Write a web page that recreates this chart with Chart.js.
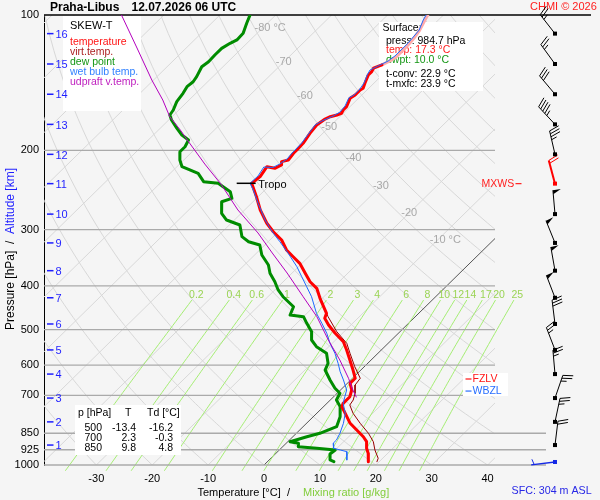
<!DOCTYPE html>
<html>
<head>
<meta charset="utf-8">
<script src="https://cdn.jsdelivr.net/npm/chart.js@4.4.1/dist/chart.umd.min.js"></script>
<style>
html,body{margin:0;padding:0;background:#f5f5f5;overflow:hidden;}
canvas{display:block;}
</style>
</head>
<body>
<canvas id="c" width="600" height="500"></canvas>
<script>
// ---------------- data ----------------
const pressureTicks = [100,200,300,400,500,600,700,850,925,1000];
const tempTicks = [-30,-20,-10,0,10,20,30,40];

const tempP = [100,102.6,108.0,111.9,115.4,119.6,123.8,126.5,129.1,131.3,133.6,135.9,141.8,145.5,146.8,150.6,153.2,159.9,162.6,165.4,166.8,168.3,170.3,175.6,183.2,192.8,199.5,202.9,210.0,211.8,215.4,219.1,217.3,228.7,236.6,253.4,271.2,290.3,303.1,316.2,332.8,344.4,356.3,375.0,391.5,404.9,426.1,460.1,472.1,488.5,509.7,532.1,555.2,584.3,615.1,641.7,658.3,681.3,705.1,729.3,742.1,767.6,807.9,836.0,865.2,887.6,918.1,941.9,966.3,983.3];
const tempT = [-52.8,-52.4,-51.5,-51.1,-50.9,-50.8,-50.8,-51.2,-51.9,-52.8,-52.5,-52.5,-51.6,-51.0,-51.2,-51.2,-51.5,-50.6,-50.6,-50.3,-50.8,-51.7,-52.2,-52.6,-52.3,-51.7,-51.6,-51.6,-51.3,-52.2,-51.6,-52.2,-53.9,-53.3,-53.6,-50.3,-47.2,-43.6,-40.9,-37.9,-35.2,-32.8,-30.4,-27.6,-25.2,-22.8,-20.4,-16.5,-15.9,-14.0,-11.3,-8.3,-6.2,-3.8,-1.4,0.5,0.5,2.0,2.9,2.9,3.3,5.1,7.8,10.2,12.6,14.1,15.3,16.5,17.4,18.1];

const virtP = [426.1,468.2,505.6,536.5,564.6,604.7,641.7,664.1,692.9,717.1,735.7,767.6,807.9,850.3,887.6,926.1,966.3,983.3];
const virtT = [-20.3,-15.6,-11.3,-7.4,-5.0,-1.7,1.4,1.7,3.2,4.1,4.4,6.5,9.6,12.9,15.3,17.1,19.2,19.6];

const dewP = [100,104.3,109.8,113.6,115.6,118.6,122.7,127.0,130.3,137.1,140.7,144.3,149.3,155.8,162.6,166.8,171.1,178.6,184.8,189.6,196.2,201.3,210.0,217.3,221.0,224.8,234.6,236.6,247.0,255.5,260.0,275.9,285.5,292.9,310.9,319.0,324.4,341.5,359.4,375.0,391.5,408.4,422.7,444.9,464.2,468.2,484.3,505.6,527.5,545.9,564.6,594.3,615.1,647.3,675.4,692.9,717.1,742.1,781.0,822.0,850.3,865.2,887.6,894.9,910.6,918.1,926.1,945.3,974.7,983.3];
const dewT = [-84.6,-83.7,-82.5,-82.4,-83.0,-83.6,-83.6,-83.5,-83.8,-82.9,-82.6,-82.8,-82.3,-81.9,-81.0,-80.7,-79.5,-77.0,-74.9,-72.8,-72.2,-72.2,-70.7,-69.1,-67.1,-65.0,-62.5,-59.6,-55.9,-54.4,-55.6,-53.5,-51.4,-48.1,-45.6,-43.5,-40.9,-38.7,-35.7,-33.9,-31.5,-29.4,-27.3,-23.6,-22.7,-20.0,-18.2,-15.8,-14.3,-12.2,-9.2,-7.1,-6.4,-3.7,-1.3,0.5,1.1,3.0,4.8,6.0,4.2,2.5,0.4,2.2,2.8,6.4,10.0,9.8,10.9,11.9];

const wetP = [100,102.6,108.0,115.4,123.3,126.5,129.8,132.5,135.9,141.6,146.8,150.6,152.9,159.3,164.3,167.7,172.0,175.6,182.9,192.5,202.6,208.9,214.4,218.2,217.7,227.9,236.6,244.8,262.1,285.5,305.6,319.0,338.5,362.5,381.6,401.6,422.7,460.1,484.3,509.7,536.5,564.6,594.3,620.4,647.3,681.3,705.1,729.3,767.6,807.9,850.3,879.9,894.9,918.1,926.1,934.2,974.7];
const wetT = [-53.1,-52.7,-51.6,-51.2,-51.2,-51.5,-52.4,-53.1,-52.7,-51.8,-51.4,-51.4,-51.8,-51.0,-50.8,-51.3,-52.4,-52.9,-52.5,-52.0,-51.9,-51.7,-52.1,-52.7,-54.4,-53.8,-53.9,-52.1,-48.8,-44.5,-40.6,-37.9,-34.3,-30.3,-27.6,-24.9,-22.2,-18.3,-15.5,-12.8,-10.4,-7.7,-5.3,-3.4,-1.3,1.1,2.0,2.9,5.1,6.6,7.8,8.4,8.4,9.4,10.9,12.4,13.9];

const parcelP = [100,118.4,139.5,154.5,168.3,180.1,191.5,214.4,237.4,271.2,305.1,338.0,374.4,422.7,468.2,527.5,584.3,641.7,681.3,706.1];
const parcelT = [-107.6,-98.8,-90.3,-84.7,-80.4,-76.1,-72.4,-65.5,-59.0,-51.2,-43.4,-37.2,-30.9,-23.7,-17.6,-11.3,-5.6,-0.7,2.2,4.1];

const windP   = [984.7,903,802,710,628,555,486,425,370,321,277,237,204,175,150,128.5,110];
const windDir = [263,7,12,19,355,339,353,339,350,338,355,345,347,317,320,324,322];
const windSpd = [3,20,25,25,25,25,30,50,50,50,50,20,35,45,30,25,25];

const altKm = [1,2,3,4,5,6,7,8,9,10,11,12,13,14,15,16];
const altP  = [903,802,710,628,555,486,425,370,321,277,237,204,175,150,128.5,110];

const mixW = [0.2,0.4,0.6,1,2,3,4,6,8,10,12,14,17,20,25];
const isoLabT = [-80,-70,-60,-50,-40,-30,-20,-10];
const isoLabP = [106.9,127.2,151.4,177.4,207.9,239.9,275.4,316.2];

const tropoP = 236.6, tropoT = -53.6;
const fzlvP = 644, wbzlP = 685, mxwsP = 237;

const tabP = ['500','700','850'];
const tabT = ['-13.4','2.3','9.8'];
const tabTd = ['-16.2','-0.3','4.8'];

const sfcLines = [
  ['Surface:', '#000'],
  ['press: 984.7 hPa', '#000'],
  ['temp: 17.3 °C', 'rgb(255,30,30)'],
  ['dwpt: 10.0 °C', 'rgb(20,150,20)'],
  ['t-conv: 22.9 °C', '#000'],
  ['t-mxfc: 23.9 °C', '#000']
];

// ---------------- helpers ----------------
const SKEW = 82.1;           // °C of skew per decade of pressure
const X_MIN = -39.36, X_MAX = 41.32;
const FONT = "'Liberation Sans', Arial, sans-serif";
const fnt = (s, b) => (b ? 'bold ' : '') + s + 'px ' + FONT;
function skewX(t, p) { return t + SKEW * Math.log10(1000 / p); }
function tdOfW(w, p) { const e = w * p / (622 + w); const l = Math.log(e / 6.112); return 243.5 * l / (17.67 - l); }
function series(P, T) { return P.map((p, i) => ({ x: skewX(T[i], p), y: p })); }
function txt(ctx, s, x, y, color, font, align) {
  ctx.fillStyle = color; ctx.font = font; ctx.textAlign = align || 'left'; ctx.textBaseline = 'middle';
  ctx.fillText(s, x, y);
}

function drawBarb(ctx, bx, by, dir, spd, color, lw) {
  const r = dir * Math.PI / 180;
  const ux = Math.sin(r), uy = -Math.cos(r);
  const L = 24;
  const tx = bx + ux * L, ty = by + uy * L;
  ctx.strokeStyle = color; ctx.fillStyle = color; ctx.lineWidth = lw;
  ctx.beginPath(); ctx.moveTo(bx, by); ctx.lineTo(tx, ty); ctx.stroke();
  const px = -uy, py = ux;
  let s = Math.round(spd / 5) * 5;
  let pos = 0;
  const fl = 10;
  while (s >= 50) {
    const ax = tx - ux * pos, ay = ty - uy * pos;
    const cx = tx - ux * (pos + 4), cy = ty - uy * (pos + 4);
    ctx.beginPath(); ctx.moveTo(ax, ay); ctx.lineTo(ax + px * 8 + ux * 0.5, ay + py * 8 + uy * 0.5); ctx.lineTo(cx, cy); ctx.closePath(); ctx.fill();
    pos += 5; s -= 50;
  }
  ctx.lineWidth = 1;
  while (s >= 10) {
    const ax = tx - ux * pos, ay = ty - uy * pos;
    ctx.beginPath(); ctx.moveTo(ax, ay); ctx.lineTo(ax + px * fl + ux * 3, ay + py * fl + uy * 3); ctx.stroke();
    pos += 3; s -= 10;
  }
  if (s >= 5) {
    if (pos === 0) pos = 3;
    const ax = tx - ux * pos, ay = ty - uy * pos;
    ctx.beginPath(); ctx.moveTo(ax, ay); ctx.lineTo(ax + px * fl * 0.55 + ux * 1.6, ay + py * fl * 0.55 + uy * 1.6); ctx.stroke();
  }
  ctx.fillRect(bx - 2, by - 2, 4, 4);
}

// ---------------- plugin ----------------
const skewPlugin = {
  id: 'skewT',
  beforeDraw(chart) {
    const c = chart.ctx; c.save(); c.fillStyle = '#f5f5f5'; c.fillRect(0, 0, chart.width, chart.height); c.restore();
  },
  beforeDatasetsDraw(chart) {
    const ctx = chart.ctx, xs = chart.scales.x, ys = chart.scales.y, a = chart.chartArea;
    const X = (t, p) => xs.getPixelForValue(skewX(t, p));
    const Y = p => ys.getPixelForValue(p);
    ctx.save();
    ctx.beginPath(); ctx.rect(a.left, a.top, a.right - a.left, a.bottom - a.top); ctx.clip();
    ctx.lineWidth = 1;
    ctx.strokeStyle = '#d8d8d8';
    for (let th = -40; th <= 200; th += 10) {
      ctx.beginPath();
      for (let p = 1000; p >= 100; p -= 10) {
        const t = (th + 273.15) * Math.pow(p / 1000, 0.2857) - 273.15;
        if (p === 1000) ctx.moveTo(X(t, p), Y(p)); else ctx.lineTo(X(t, p), Y(p));
      }
      ctx.stroke();
    }
    for (let t = -120; t <= 40; t += 10) {
      if (t === 0) continue;
      ctx.beginPath(); ctx.moveTo(X(t, 1000), Y(1000)); ctx.lineTo(X(t, 100), Y(100)); ctx.stroke();
    }
    ctx.strokeStyle = '#555';
    ctx.beginPath(); ctx.moveTo(X(0, 1000), Y(1000)); ctx.lineTo(X(0, 100), Y(100)); ctx.stroke();
    ctx.restore();

    // mixing ratio lines
    ctx.save();
    ctx.beginPath(); ctx.rect(a.left, a.top, 546 - a.left, a.bottom + 6 - a.top); ctx.clip();
    ctx.strokeStyle = 'rgb(165,238,115)'; ctx.lineWidth = 1;
    for (const w of mixW) {
      ctx.beginPath();
      for (let p = 1030; p >= 430; p -= 10) {
        const t = tdOfW(w, p);
        if (p === 1030) ctx.moveTo(X(t, p), Y(p)); else ctx.lineTo(X(t, p), Y(p));
      }
      ctx.stroke();
    }
    ctx.restore();

    // isobars
    ctx.save();
    ctx.strokeStyle = 'rgb(170,170,170)'; ctx.lineWidth = 1.3;
    for (const p of pressureTicks) {
      if (p === 100) continue;
      const y = Y(p);
      ctx.beginPath(); ctx.moveTo(a.left, y); ctx.lineTo(p >= 850 ? 546 : a.right, y); ctx.stroke();
    }
    ctx.strokeStyle = '#000'; ctx.lineWidth = 1.5;
    ctx.beginPath(); ctx.moveTo(a.left, Y(100)); ctx.lineTo(591, Y(100)); ctx.stroke();

    // isotherm labels
    isoLabT.forEach((t, i) => {
      const x = X(t, isoLabP[i]), y = Y(isoLabP[i]);
      const s = String(t);
      txt(ctx, s, x, y, '#a8a8a8', fnt(11), 'center');
      if (i === 0 || i === isoLabT.length - 1) {
        ctx.font = fnt(11);
        const wdt = ctx.measureText(s).width;
        txt(ctx, ' °C', x + wdt / 2, y, '#a8a8a8', fnt(11), 'left');
      }
    });
    // mixing ratio labels
    mixW.forEach(w => {
      txt(ctx, String(w), X(tdOfW(w, 417), 417), Y(417) + 1, 'rgb(155,212,85)', fnt(10.5), 'center');
    });

    // boxes
    ctx.fillStyle = '#ffffff';
    ctx.fillRect(63, 16, 78, 95);
    ctx.fillRect(379, 22, 104, 69);
    ctx.fillRect(75, 405, 106, 50);

    // legend
    txt(ctx, 'SKEW-T', 70, 26, '#000', fnt(11));
    const leg = [['temperature', 'rgb(255,20,20)'], ['virt.temp.', 'rgb(170,30,30)'], ['dew point', 'rgb(20,150,20)'], ['wet bulb temp.', 'rgb(50,130,255)'], ['udpraft v.temp.', 'rgb(190,30,190)']];
    leg.forEach((l, i) => txt(ctx, l[0], 70, 42.3 + i * 9.85, l[1], fnt(10.5)));

    // surface box
    const sy = [27.7, 40.7, 50.3, 60.2, 74.3, 84.3];
    sfcLines.forEach((l, i) => txt(ctx, l[0], i === 0 ? 382.5 : 386, sy[i], l[1], fnt(10.5)));

    // table
    txt(ctx, 'p [hPa]', 78, 413.3, '#000', fnt(10.5));
    txt(ctx, 'T', 125, 413.3, '#000', fnt(10.5));
    txt(ctx, 'Td [°C]', 147, 413.3, '#000', fnt(10.5));
    const ry = [428.3, 438.3, 448.6];
    tabP.forEach((p, i) => {
      txt(ctx, p, 102, ry[i], '#000', fnt(10.5), 'right');
      txt(ctx, tabT[i], 136, ry[i], '#000', fnt(10.5), 'right');
      txt(ctx, tabTd[i], 173, ry[i], '#000', fnt(10.5), 'right');
    });
    ctx.restore();
  },
  afterDatasetsDraw(chart) {
    const ctx = chart.ctx, xs = chart.scales.x, ys = chart.scales.y, a = chart.chartArea;
    const X = (t, p) => xs.getPixelForValue(skewX(t, p));
    const Y = p => ys.getPixelForValue(p);
    ctx.save();
    // tropopause
    const tx = X(tropoT, tropoP), ty = Y(tropoP);
    ctx.strokeStyle = '#000'; ctx.lineWidth = 1.5;
    ctx.beginPath(); ctx.moveTo(tx - 15, ty); ctx.lineTo(tx + 4, ty); ctx.stroke();
    txt(ctx, 'Tropo', tx + 6.5, ty + 1.5, '#000', fnt(11));

    // FZLV / WBZL
    ctx.fillStyle = '#fff'; ctx.fillRect(463, 373, 45, 23);
    ctx.lineWidth = 1.2;
    const fy = Y(fzlvP), wy = Y(wbzlP);
    ctx.strokeStyle = 'rgb(255,20,20)'; ctx.beginPath(); ctx.moveTo(465.5, fy); ctx.lineTo(471.5, fy); ctx.stroke();
    txt(ctx, 'FZLV', 472.5, fy + 0.5, 'rgb(255,20,20)', fnt(10.5));
    ctx.strokeStyle = 'rgb(40,110,255)'; ctx.beginPath(); ctx.moveTo(465.5, wy); ctx.lineTo(471.5, wy); ctx.stroke();
    txt(ctx, 'WBZL', 472.5, wy + 0.5, 'rgb(40,110,255)', fnt(10.5));

    // MXWS
    const my = Y(mxwsP);
    txt(ctx, 'MXWS', 481.5, my, 'rgb(255,30,30)', fnt(10.5));
    ctx.strokeStyle = 'rgb(255,30,30)'; ctx.beginPath(); ctx.moveTo(515.5, my); ctx.lineTo(521.5, my); ctx.stroke();

    // altitude km ticks
    ctx.strokeStyle = 'rgb(30,30,255)'; ctx.lineWidth = 1.5;
    altKm.forEach((k, i) => {
      const y = Y(altP[i]);
      ctx.beginPath(); ctx.moveTo(47, y); ctx.lineTo(53.5, y); ctx.stroke();
      txt(ctx, String(k), 55.5, y + 1.2, 'rgb(30,30,255)', fnt(11));
    });

    // axis titles
    ctx.save();
    ctx.translate(10.5, 249); ctx.rotate(-Math.PI / 2);
    ctx.font = fnt(12);
    const t1 = 'Pressure [hPa]  /  ';
    const w1 = ctx.measureText(t1).width;
    const w2 = ctx.measureText('Altitude [km]').width;
    const st = -(w1 + w2) / 2;
    txt(ctx, t1, st, 0, '#000', fnt(12));
    txt(ctx, 'Altitude [km]', st + w1, 0, 'rgb(30,30,255)', fnt(12));
    ctx.restore();

    txt(ctx, 'Temperature [°C]  /', 197.5, 493, '#000', fnt(11));
    txt(ctx, 'Mixing ratio [g/kg]', 303, 493, 'rgb(130,205,60)', fnt(11));
    txt(ctx, 'SFC: 304 m ASL', 511.5, 491.5, 'rgb(40,40,230)', fnt(10.7));

    // title
    txt(ctx, 'Praha-Libus', 50, 7.5, '#000', fnt(12, true));
    txt(ctx, '12.07.2026 06 UTC', 131.5, 7.5, '#000', fnt(12, true));
    txt(ctx, 'CHMI © 2026', 530, 7, 'rgb(255,30,30)', fnt(11));

    // wind barbs
    windP.forEach((p, i) => {
      let col = '#000', lw = 1;
      if (i === 0) { col = 'rgb(20,40,230)'; lw = 1.3; }
      if (p === mxwsP) { col = 'rgb(255,0,0)'; lw = 2; }
      drawBarb(ctx, 555, Y(p), windDir[i], windSpd[i], col, lw);
    });
    ctx.restore();
  }
};

// ---------------- chart ----------------
const line = (label, P, T, color, width, extra) => Object.assign({
  label, data: series(P, T), showLine: true, borderColor: color, backgroundColor: color,
  borderWidth: width, pointRadius: 0, pointHoverRadius: 0, tension: 0, fill: false,
  borderJoinStyle: 'round', borderCapStyle: 'round'
}, extra || {});

new Chart(document.getElementById('c'), {
  type: 'scatter',
  data: {
    datasets: [
      line('updraft v.temp.', parcelP, parcelT, 'rgb(180,0,190)', 1),
      line('wet bulb temp.', wetP, wetT, 'rgb(30,105,255)', 1),
      line('temperature', tempP, tempT, 'rgb(255,0,0)', 3, {
        segment: { borderColor: c => (c.p0.parsed.y < 130 && c.p1.parsed.y < 130) ? 'rgb(255,170,170)' : 'rgb(255,0,0)' }
      }),
      line('dew point', dewP, dewT, 'rgb(0,140,0)', 3),
      line('virt.temp.', virtP, virtT, 'rgb(150,0,0)', 1)
    ]
  },
  options: {
    responsive: false,
    animation: false,
    devicePixelRatio: 1,
    events: [],
    layout: { padding: { top: 15, right: 105, left: 0, bottom: 0 } },
    plugins: { legend: { display: false }, tooltip: { enabled: false }, title: { display: false } },
    scales: {
      x: {
        type: 'linear', min: X_MIN, max: X_MAX,
        afterBuildTicks: s => { s.ticks = tempTicks.map(v => ({ value: v })); },
        afterFit: s => { s.height = 35; },
        grid: { display: false }, border: { display: false },
        ticks: { color: '#000', font: { size: 11, family: FONT }, padding: -1, maxRotation: 0, autoSkip: false, callback: v => String(v) }
      },
      y: {
        type: 'logarithmic', reverse: true, min: 100, max: 1000,
        afterBuildTicks: s => { s.ticks = pressureTicks.map(v => ({ value: v })); },
        afterFit: s => { s.width = 44; },
        grid: { display: true, color: 'rgba(0,0,0,0)', drawTicks: false },
        border: { display: true, color: '#000', width: 1 },
        ticks: { color: '#000', font: { size: 11, family: FONT }, padding: 5, autoSkip: false, callback: v => String(v) }
      }
    }
  },
  plugins: [skewPlugin]
});
</script>
</body>
</html>
